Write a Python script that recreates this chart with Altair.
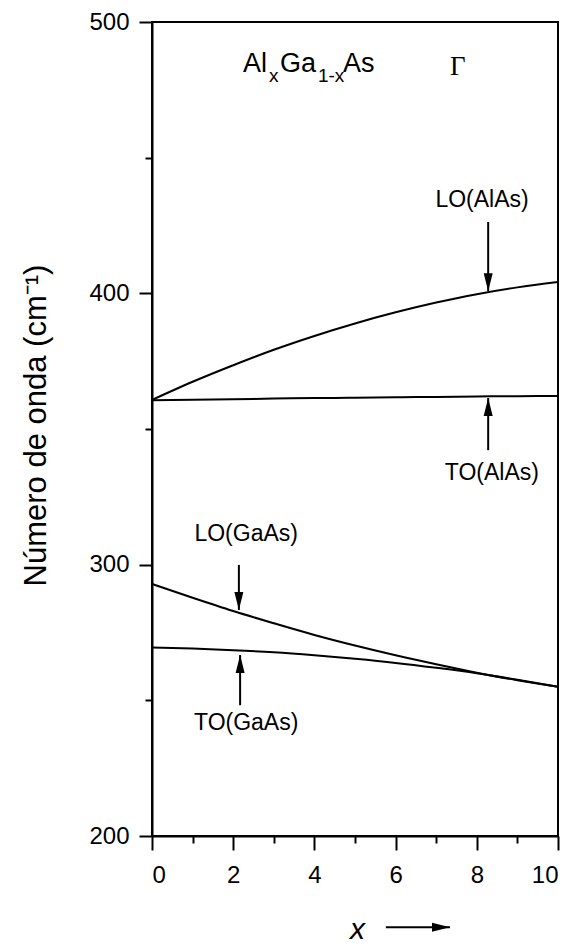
import altair as alt
import pandas as pd

# ---------------- data ----------------
x_vals = [0, 1, 2, 3, 4, 5, 6, 7, 8, 9, 10]
lo_alas = [360.7, 367.4, 373.5, 379.2, 384.3, 388.9, 393.0, 396.6, 399.7, 402.2, 404.2]
to_alas = [360.6, 360.8, 361.0, 361.2, 361.4, 361.5, 361.7, 361.8, 362.0, 362.1, 362.2]
lo_gaas = [292.9, 287.8, 282.9, 278.4, 274.1, 270.2, 266.6, 263.3, 260.2, 257.4, 255.0]
to_gaas = [269.5, 269.1, 268.5, 267.7, 266.6, 265.3, 263.8, 262.0, 260.0, 257.6, 255.0]

series_names = ["LO(AlAs)", "TO(AlAs)", "LO(GaAs)", "TO(GaAs)"]

label_text = ["LO(AlAs)", "TO(AlAs)", "LO(GaAs)", "TO(GaAs)"]
label_x = [8.13, 8.37, 2.32, 2.32]
label_y = [431.8, 331.2, 308.7, 239.0]

arrow_x = [8.28, 8.28, 2.14, 2.17]
arrow_from = [426.3, 342.2, 299.9, 248.2]
arrow_tip = [400.8, 361.4, 283.3, 266.7]
arrow_dir = ["down", "up", "down", "up"]

formula_x = [2.24]
formula_y = [481.6]
gamma_x = [7.34]
gamma_y = [480.5]

xarrow_x0 = [5.76]
xarrow_tip = [7.34]
xarrow_y = [166.4]

x_ticks = [0, 1, 2, 3, 4, 5, 6, 7, 8, 9, 10]
y_ticks = [200, 250, 300, 350, 400, 450, 500]

# ---------------- tables ----------------
rows = []
for name, vals in zip(series_names, [lo_alas, to_alas, lo_gaas, to_gaas]):
    for xv, yv in zip(x_vals, vals):
        rows.append({"series": name, "x": xv, "y": yv})
curves = pd.DataFrame(rows)

labels = pd.DataFrame({"text": label_text, "x": label_x, "y": label_y})
arrows = pd.DataFrame({"x": arrow_x, "y0": arrow_from, "y1": arrow_tip, "dir": arrow_dir})
formula = pd.DataFrame({"x": formula_x, "y": formula_y})
gamma = pd.DataFrame({"x": gamma_x, "y": gamma_y})
xarrow = pd.DataFrame({"x0": xarrow_x0, "x1": xarrow_tip, "y": xarrow_y})

FONT = "Liberation Sans"

xscale = alt.Scale(domain=[0, 10], nice=False, zero=False)
yscale = alt.Scale(domain=[200, 500], nice=False, zero=False)

xaxis = alt.Axis(
    values=x_ticks,
    labelExpr="datum.value % 2 == 0 ? datum.label : ''",
    tickSize={"condition": {"test": "datum.value % 2 == 1", "value": 7}, "value": 14},
    labelPadding=13,
    labelFontSize=24,
    labelFont=FONT,
    labelColor="black",
    title="x",
    titleFont=FONT,
    titleFontSize=30,
    titleFontStyle="italic",
    titleFontWeight="normal",
    titleColor="black",
    titleX=205,
    titleY=102,
    titleAlign="center",
    titleBaseline="alphabetic",
    grid=False,
    domainColor="black",
    domainWidth=2,
    tickColor="black",
    tickWidth=2,
)
yaxis = alt.Axis(
    values=y_ticks,
    labelExpr="datum.value % 100 == 0 ? datum.label : ''",
    tickSize={"condition": {"test": "datum.value % 100 == 50", "value": 7}, "value": 13},
    labelPadding=10,
    labelFontSize=24,
    labelFont=FONT,
    labelColor="black",
    title="Número de onda (cm⁻¹)",
    titleFont=FONT,
    titleFontSize=31,
    titleFontWeight="normal",
    titleColor="black",
    titleAngle=270,
    titleX=-107,
    titleY=403,
    titleAlign="center",
    titleBaseline="alphabetic",
    grid=False,
    domainColor="black",
    domainWidth=2,
    tickColor="black",
    tickWidth=2,
)

lines = alt.Chart(curves).mark_line(color="black", strokeWidth=2, interpolate="monotone").encode(
    x=alt.X("x:Q", scale=xscale, axis=xaxis),
    y=alt.Y("y:Q", scale=yscale, axis=yaxis),
    detail="series:N",
)

label_layer = alt.Chart(labels).mark_text(
    font=FONT, fontSize=23, color="black", align="center", baseline="alphabetic"
).encode(x=alt.X("x:Q", scale=xscale), y=alt.Y("y:Q", scale=yscale), text="text:N")

shafts = alt.Chart(arrows).mark_rule(color="black", strokeWidth=2).encode(
    x=alt.X("x:Q", scale=xscale), y=alt.Y("y0:Q", scale=yscale), y2="y1:Q"
)
heads_down = alt.Chart(arrows).transform_filter("datum.dir == 'down'").mark_point(
    shape="M -0.5 -2 L 0.5 -2 L 0 0 Z", filled=True, color="black", size=324, opacity=1, strokeWidth=0
).encode(x=alt.X("x:Q", scale=xscale), y=alt.Y("y1:Q", scale=yscale))
heads_up = alt.Chart(arrows).transform_filter("datum.dir == 'up'").mark_point(
    shape="M -0.5 2 L 0.5 2 L 0 0 Z", filled=True, color="black", size=324, opacity=1, strokeWidth=0
).encode(x=alt.X("x:Q", scale=xscale), y=alt.Y("y1:Q", scale=yscale))


def piece(txt, dx, dy, fs):
    return alt.Chart(formula).mark_text(
        text=txt, font=FONT, fontSize=fs, color="black", align="left", baseline="alphabetic", dx=dx, dy=dy
    ).encode(x=alt.X("x:Q", scale=xscale), y=alt.Y("y:Q", scale=yscale))


formula_layers = [
    piece("Al", 0, 0, 27),
    piece("x", 26, 10, 19),
    piece("Ga", 37, 0, 27),
    piece("1-x", 75, 10, 19),
    piece("As", 100, 0, 27),
]

gamma_layer = alt.Chart(gamma).mark_text(
    text="Γ", font="Liberation Serif", fontSize=27, color="black", align="left", baseline="alphabetic"
).encode(x=alt.X("x:Q", scale=xscale), y=alt.Y("y:Q", scale=yscale))

xarrow_shaft = alt.Chart(xarrow).mark_rule(color="black", strokeWidth=2).encode(
    x=alt.X("x0:Q", scale=xscale), x2="x1:Q", y=alt.Y("y:Q", scale=yscale)
)
xarrow_head = alt.Chart(xarrow).mark_point(
    shape="M -2 -0.5 L -2 0.5 L 0 0 Z", filled=True, color="black", size=324, opacity=1, strokeWidth=0
).encode(x=alt.X("x1:Q", scale=xscale), y=alt.Y("y:Q", scale=yscale))

chart = alt.layer(
    lines, label_layer, shafts, heads_down, heads_up, *formula_layers, gamma_layer, xarrow_shaft, xarrow_head
).properties(
    width=406,
    height=814,
    autosize=alt.AutoSizeParams(type="none"),
    padding={"left": 152, "top": 22, "right": 17, "bottom": 111},
    background="white",
).configure_view(
    stroke="black", strokeWidth=2
)

chart.save("out.html", embed_options={"renderer": "svg", "actions": False})
